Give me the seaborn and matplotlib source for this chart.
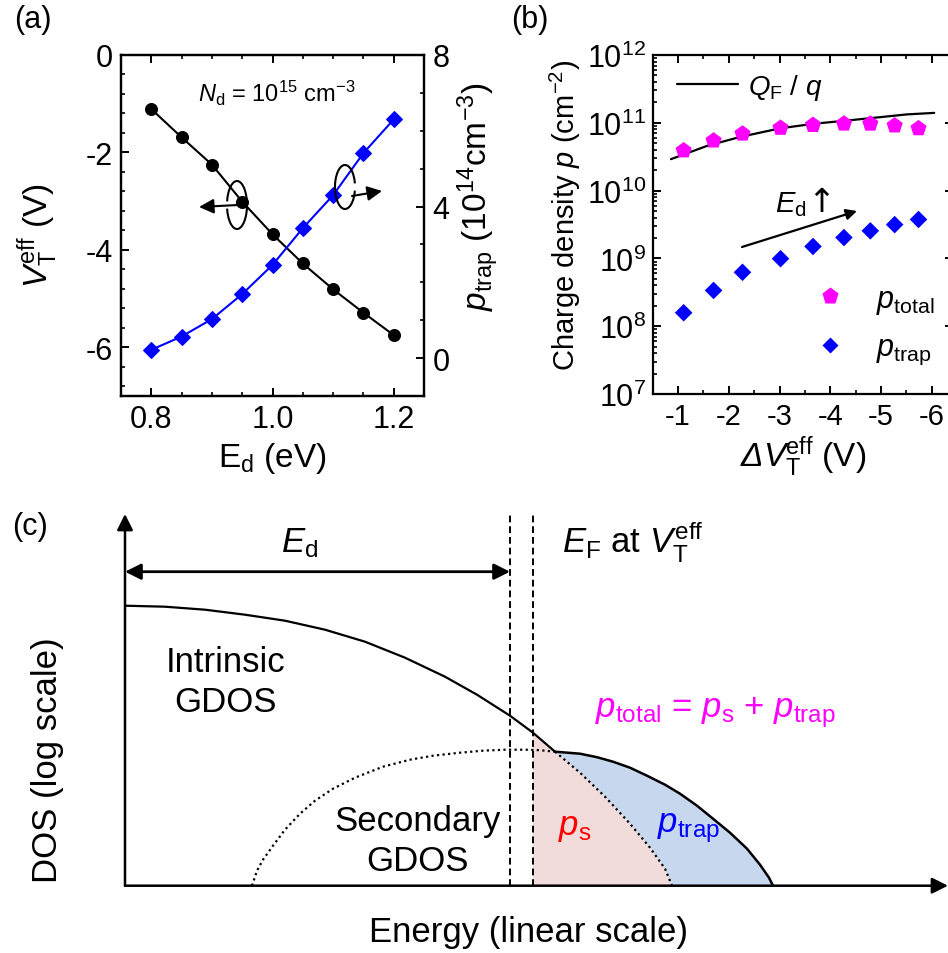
import numpy as np
import pandas as pd
import matplotlib
matplotlib.use("Agg")
import matplotlib.pyplot as plt
import seaborn as sns
from matplotlib.ticker import MultipleLocator, LogLocator, NullFormatter
from matplotlib.patches import Arc
from matplotlib.lines import Line2D

# ---------------- data ----------------
# panel (a)
ed_ev = [0.80, 0.85, 0.90, 0.95, 1.00, 1.05, 1.10, 1.15, 1.20]
vt_eff = [-1.11, -1.69, -2.25, -3.01, -3.68, -4.28, -4.81, -5.29, -5.75]
p_trap_vol = [0.22, 0.57, 1.03, 1.69, 2.46, 3.43, 4.30, 5.41, 6.30]   # 1e14 cm^-3

# panel (b)
delta_vt = [-1.11, -1.70, -2.27, -3.02, -3.66, -4.27, -4.79, -5.27, -5.74]
p_total = [3.9e10, 5.45e10, 6.9e10, 8.4e10, 9.25e10, 9.7e10, 9.67e10, 9.1e10, 8.27e10]
p_trap_area = [1.58e8, 3.37e8, 6.24e8, 9.9e8, 1.5e9, 2.03e9, 2.55e9, 3.15e9, 3.75e9]
qf_dv = [-0.86, -1.57, -2.22, -3.01, -3.67, -4.33, -4.98, -5.51, -6.05]
qf_p = [2.91e10, 4.56e10, 6.18e10, 8.28e10, 9.67e10, 1.08e11, 1.21e11, 1.33e11, 1.40e11]

# panel (c) schematic (arbitrary units)
intr_e = [0.0, 0.4, 0.8, 1.2, 1.6, 2.0, 2.4, 2.8, 3.2, 3.52, 3.85, 4.08, 4.30,
          4.55, 4.80, 5.05, 5.25, 5.40, 5.47]
intr_d = [2.80, 2.79, 2.76, 2.71, 2.65, 2.56, 2.44, 2.28, 2.09, 1.91, 1.70, 1.53, 1.34,
          1.13, 0.89, 0.62, 0.38, 0.17, 0.0]
sec_e = [1.27, 1.32, 1.38, 1.48, 1.60, 1.75, 1.90, 2.08, 2.30, 2.58, 2.85, 3.08, 3.35, 3.58,
         3.80, 4.00, 4.15, 4.30, 4.55, 4.72, 4.88, 5.05, 5.22, 5.40, 5.55, 5.72, 5.88,
         6.05, 6.22, 6.35, 6.44, 6.48]
sec_d = [0.0, 0.15, 0.26, 0.40, 0.56, 0.72, 0.85, 0.97, 1.08, 1.19, 1.26, 1.30, 1.33, 1.35,
         1.36, 1.36, 1.355, 1.34, 1.32, 1.285, 1.24, 1.18, 1.10, 1.01, 0.92, 0.80, 0.67,
         0.53, 0.37, 0.21, 0.08, 0.0]
e_d_level = 3.85
e_f_level = 4.08
cross_e = 4.30

# ---------------- style ----------------
sns.set_theme(style="ticks")
plt.rcParams.update({
    "font.family": ["Liberation Sans", "DejaVu Sans"],
    "mathtext.fontset": "custom",
    "mathtext.rm": "Liberation Sans",
    "mathtext.it": "Liberation Sans:italic",
    "mathtext.bf": "Liberation Sans:bold",
    "mathtext.sf": "Liberation Sans:italic",
    "axes.unicode_minus": False,
    "axes.linewidth": 1.6,
    "axes.edgecolor": "black",
    "text.color": "black",
    "axes.labelcolor": "black",
    "xtick.color": "black",
    "ytick.color": "black",
    "xtick.direction": "in",
    "ytick.direction": "in",
    "xtick.major.size": 5.5,
    "ytick.major.size": 5.5,
    "xtick.minor.size": 3,
    "ytick.minor.size": 3,
    "xtick.major.width": 1.4,
    "ytick.major.width": 1.4,
    "xtick.minor.width": 1.2,
    "ytick.minor.width": 1.2,
})

W, H = 948, 954
fig = plt.figure(figsize=(W / 100, H / 100), dpi=100)


def fbox(l, t, r, b):
    return [l / W, 1 - b / H, (r - l) / W, (b - t) / H]


# overlay in pixel coordinates for annotations
ov = fig.add_axes([0, 0, 1, 1], zorder=10)
ov.set_xlim(0, W)
ov.set_ylim(H, 0)
ov.axis("off")
ov.patch.set_alpha(0)

# ---------------- panel (a) ----------------
ax_a = fig.add_axes(fbox(121, 56, 424, 397))
ax_a2 = ax_a.twinx()
sns.lineplot(x=ed_ev, y=vt_eff, ax=ax_a, color="black", marker="o", markersize=8.6,
             markeredgecolor="black", linewidth=1.5)
sns.lineplot(x=ed_ev, y=p_trap_vol, ax=ax_a2, color="#0000FF", marker="D", markersize=7.8,
             markeredgecolor="#0000FF", linewidth=1.5)
ax_a.set_xlim(0.75, 1.25)
ax_a.set_ylim(-7, 0)
ax_a2.set_ylim(-1, 8)
ax_a.xaxis.set_major_locator(MultipleLocator(0.2))
ax_a.xaxis.set_minor_locator(MultipleLocator(0.05))
ax_a.yaxis.set_major_locator(MultipleLocator(2))
ax_a.yaxis.set_minor_locator(MultipleLocator(0.4))
ax_a2.yaxis.set_major_locator(MultipleLocator(4))
ax_a2.yaxis.set_minor_locator(MultipleLocator(1))
ax_a.tick_params(which="both", top=True, right=False, labelsize=22, pad=6)
ax_a2.tick_params(which="both", labelsize=22, pad=6)
ax_a.set_xlabel(r"E$_{\rm d}$ (eV)", fontsize=24, labelpad=4)
ax_a.set_ylabel(r"$V_{\rm T}^{\rm eff}$ (V)", fontsize=24)
ax_a.yaxis.set_label_coords((60 - 121) / 303, (397 - 235) / 341)
ax_a2.set_ylabel(r"$p_{\rm trap}$ (10$^{14}$cm$^{-3}$)", fontsize=24)
ax_a2.yaxis.set_label_coords((456 - 121) / 303, (397 - 197) / 341)
for sp in ax_a.spines.values():
    sp.set_linewidth(1.6)

ov.text(277, 93, r"$N_{\rm d}$ = 10$^{15}$ cm$^{-3}$", fontsize=17, ha="center", va="center")
ov.text(33, 20, "(a)", fontsize=22, ha="center", va="center")

# rotation symbols
ov.add_patch(Arc((237, 206), 20, 48, theta1=200, theta2=520, lw=1.5, color="black"))
ov.annotate("", xy=(199, 208), xytext=(238, 206),
            arrowprops=dict(arrowstyle="-|>", color="black", lw=1.5, mutation_scale=22,
                            shrinkA=0, shrinkB=0))
ov.add_patch(Arc((345, 188), 20, 44, theta1=20, theta2=340, lw=1.5, color="black"))
ov.annotate("", xy=(382, 192), xytext=(352, 197),
            arrowprops=dict(arrowstyle="-|>", color="black", lw=1.5, mutation_scale=22,
                            shrinkA=0, shrinkB=0))

# ---------------- panel (b) ----------------
ax_b = fig.add_axes(fbox(652.7, 56, 953, 395))
ax_b.set_yscale("log")
sns.lineplot(x=qf_dv, y=qf_p, ax=ax_b, color="black", linewidth=1.6, sort=False)
sns.scatterplot(x=delta_vt, y=p_total, ax=ax_b, marker="p", color="#FF00FF", s=150,
                edgecolor="none", zorder=3)
sns.scatterplot(x=delta_vt, y=p_trap_area, ax=ax_b, marker="D", color="#0000FF", s=80,
                edgecolor="none", zorder=3)
ax_b.set_xlim(-0.5, -6.42)
ax_b.set_ylim(1e7, 1e12)
ax_b.xaxis.set_major_locator(MultipleLocator(1))
ax_b.xaxis.set_minor_locator(MultipleLocator(0.5))
ax_b.yaxis.set_major_locator(LogLocator(base=10, numticks=10))
ax_b.yaxis.set_minor_locator(LogLocator(base=10, subs=np.arange(2, 10), numticks=20))
ax_b.yaxis.set_minor_formatter(NullFormatter())
ax_b.tick_params(which="both", top=True, right=True)
ax_b.tick_params(axis="x", labelsize=21, pad=6)
ax_b.tick_params(axis="y", labelsize=22, pad=5)
ax_b.tick_params(axis="y", which="minor", right=False)
ax_b.set_xlabel(r"$\mathsf{\Delta V}_{\rm T}^{\rm eff}$ (V)", fontsize=24, labelpad=2)
ax_b.set_ylabel(r"Charge density $p$ (cm$^{-2}$)", fontsize=21)
ax_b.yaxis.set_label_coords((583 - 652.7) / 300.3, (395 - 215) / 339)

h_line = Line2D([], [], color="black", lw=1.6)
leg1 = ax_b.legend([h_line], [r"$Q_{\rm F}$ / $q$"], loc="center left",
                   bbox_to_anchor=(677 / W, 1 - 88 / H), bbox_transform=fig.transFigure,
                   frameon=False, fontsize=20, handlelength=2.2, handletextpad=0.35,
                   borderpad=0, borderaxespad=0)
ax_b.add_artist(leg1)
h_pt = Line2D([], [], ls="none", marker="p", color="#FF00FF", ms=12.5, mec="none")
h_tr = Line2D([], [], ls="none", marker="D", color="#0000FF", ms=8.5, mec="none")
leg2 = ax_b.legend([h_pt, h_tr], [r"$p_{\rm total}$", r"$p_{\rm trap}$"], loc="center left",
                   bbox_to_anchor=(815 / W, 1 - 326 / H), bbox_transform=fig.transFigure,
                   frameon=False, fontsize=22, handlelength=1.0, handletextpad=1.0,
                   labelspacing=0.55, borderpad=0, borderaxespad=0)

ov.annotate("", xy=(857, 212), xytext=(742, 248),
            arrowprops=dict(arrowstyle="-|>", color="black", lw=1.6, mutation_scale=16,
                            shrinkA=0, shrinkB=0))
ov.text(775, 205, r"$E_{\rm d}$", fontsize=21, ha="left", va="center")
ov.text(807, 203, "↑", fontsize=24, ha="left", va="center",
        family=["DejaVu Sans"])
ov.text(530, 20, "(b)", fontsize=22, ha="center", va="center")

# ---------------- panel (c) ----------------
ax_c = fig.add_axes(fbox(125, 515, 948, 886.7))
ax_c.set_xlim(0, 8.23)
ax_c.set_ylim(0, 3.717)
ax_c.axis("off")

i_cross = intr_e.index(cross_e)
i_ef = intr_e.index(e_f_level)
s_cross = sec_e.index(cross_e)

# fills
pink_x = [e_f_level] + intr_e[i_ef:]
pink_y = [0.0] + intr_d[i_ef:]
ax_c.fill(pink_x, pink_y, color="#F2DCDB", lw=0, zorder=1)
blue_x = sec_e[s_cross:] + intr_e[i_cross:][::-1]
blue_y = sec_d[s_cross:] + intr_d[i_cross:][::-1]
ax_c.fill(blue_x, blue_y, color="#C6D7EE", lw=0, zorder=1)

sns.lineplot(x=intr_e[:i_cross + 1], y=intr_d[:i_cross + 1], ax=ax_c, sort=False,
             color="black", lw=1.6, zorder=3)
sns.lineplot(x=intr_e[i_cross:], y=intr_d[i_cross:], ax=ax_c, sort=False,
             color="black", lw=1.6, ls=(0, (1, 1.5)), zorder=3)
sns.lineplot(x=sec_e[:s_cross + 1], y=sec_d[:s_cross + 1], ax=ax_c, sort=False,
             color="black", lw=1.6, ls=(0, (1, 1.5)), zorder=3)
sns.lineplot(x=sec_e[s_cross:], y=sec_d[s_cross:], ax=ax_c, sort=False,
             color="black", lw=1.8, zorder=3)

for xv in (e_d_level, e_f_level):
    ax_c.plot([xv, xv], [0, 3.74], color="black", lw=1.4, ls=(0, (3.5, 2)),
              clip_on=False, zorder=4)

ax_c.annotate("", xy=(0, 3.717), xytext=(0, 0), annotation_clip=False,
              arrowprops=dict(arrowstyle="-|>", color="black", lw=1.8, mutation_scale=24,
                              shrinkA=0, shrinkB=0))
ax_c.annotate("", xy=(8.23, 0), xytext=(0, 0), annotation_clip=False,
              arrowprops=dict(arrowstyle="-|>", color="black", lw=1.8, mutation_scale=24,
                              shrinkA=0, shrinkB=0))
ax_c.annotate("", xy=(e_d_level, 3.14), xytext=(0, 3.14), annotation_clip=False,
              arrowprops=dict(arrowstyle="<|-|>", color="black", lw=2.0, mutation_scale=24,
                              shrinkA=0, shrinkB=0))

fs_c = 25
ov.text(300, 543, r"$E_{\rm d}$", fontsize=fs_c, ha="center", va="center")
ov.text(562, 542, r"$E_{\rm F}$ at $V_{\rm T}^{\rm eff}$", fontsize=fs_c, ha="left", va="center")
ov.text(226, 663, "Intrinsic", fontsize=fs_c, ha="center", va="center")
ov.text(226, 703, "GDOS", fontsize=fs_c, ha="center", va="center")
ov.text(418, 822, "Secondary", fontsize=fs_c, ha="center", va="center")
ov.text(418, 862, "GDOS", fontsize=fs_c, ha="center", va="center")
ov.text(595, 713, r"$p_{\rm total}$ = $p_{\rm s}$ + $p_{\rm trap}$", fontsize=fs_c,
        color="#FF00FF", ha="left", va="center")
ov.text(575, 828, r"$p_{\rm s}$", fontsize=fs_c, color="#FF0000", ha="center", va="center")
ov.text(689, 828, r"$p_{\rm trap}$", fontsize=fs_c, color="#0000FF", ha="center", va="center")
ov.text(48, 760, "DOS (log scale)", fontsize=fs_c, rotation=90, ha="center", va="center")
ov.text(529, 933, "Energy (linear scale)", fontsize=fs_c, ha="center", va="center")
ov.text(30, 527, "(c)", fontsize=22, ha="center", va="center")

fig.savefig("out.png", dpi=100)
